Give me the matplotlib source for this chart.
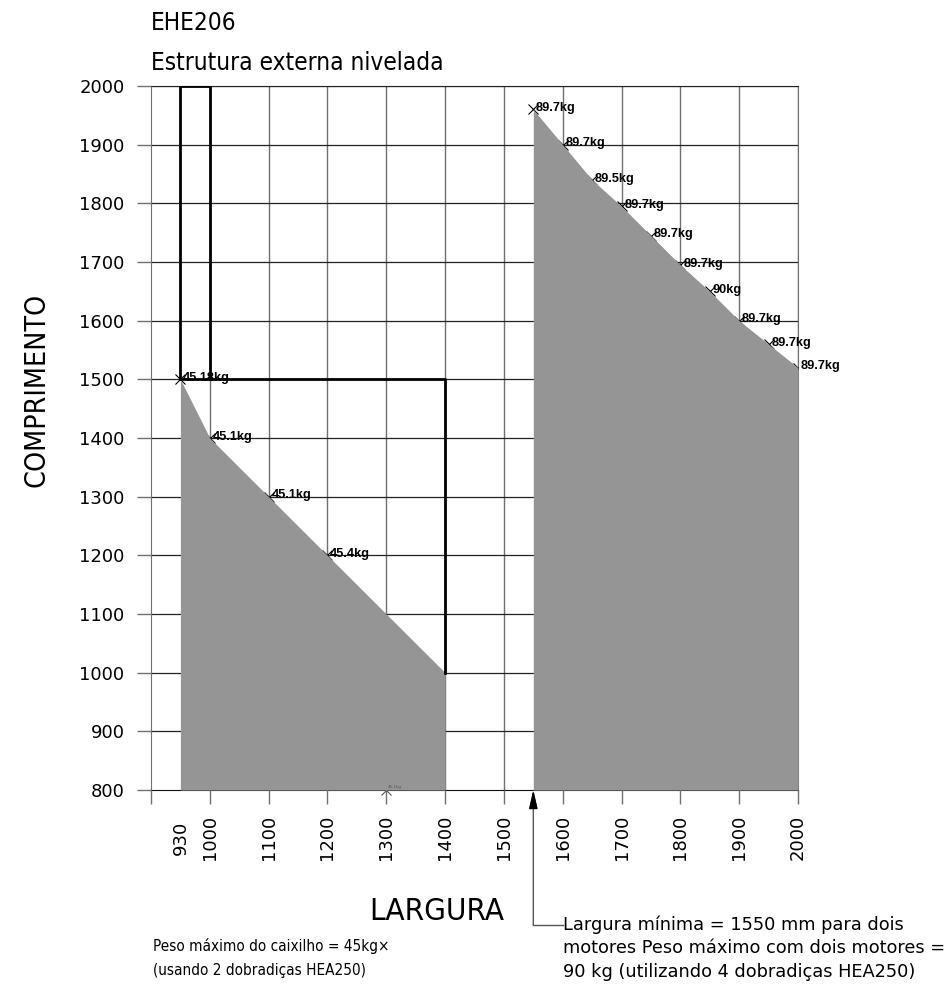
import matplotlib.pyplot as plt
from matplotlib.ticker import FixedLocator

# limite para um motor (dobradicas HEA250 x2)
um_motor_largura = [950, 1000, 1100, 1200, 1400]
um_motor_compr = [1500, 1400, 1300, 1200, 1000]
um_motor_peso = ['45.18kg', '45.1kg', '45.1kg', '45.4kg', None]

# limite para dois motores (dobradicas HEA250 x4)
dois_motores_largura = [1550, 1600, 1650, 1700, 1750, 1800, 1850, 1900, 1950, 2000]
dois_motores_compr = [1960, 1900, 1840, 1795, 1745, 1695, 1650, 1600, 1560, 1520]
dois_motores_peso = ['89.7kg', '89.7kg', '89.5kg', '89.7kg', '89.7kg',
                     '89.7kg', '90kg', '89.7kg', '89.7kg', '89.7kg']

x_ticks = [900, 1000, 1100, 1200, 1300, 1400, 1500, 1600, 1700, 1800, 1900, 2000]
x_labels = ['', '1000', '1100', '1200', '1300', '1400', '1500', '1600', '1700', '1800', '1900', '2000']
y_ticks = list(range(800, 2001, 100))

cad = dict(family='DejaVu Sans', stretch='condensed', weight='light')
cinza = '#959595'

fig = plt.figure(figsize=(9.49, 9.90), dpi=100)
ax = fig.add_axes([0.1591, 0.2020, 0.6818, 0.7111])
ax.set_xlim(900, 2000)
ax.set_ylim(800, 2000)

# grelha
for xv in x_ticks[1:]:
    ax.axvline(xv, color='#707070', lw=1.0, zorder=1)
for yv in y_ticks[1:]:
    ax.axhline(yv, color='#222222', lw=0.9, zorder=1)

for s in ['left', 'right']:
    ax.spines[s].set_color('#707070')
ax.spines['top'].set_color('#222222')
ax.spines['bottom'].set_color('#111111')
for s in ax.spines.values():
    s.set_zorder(1.5)

# marcadores por baixo do preenchimento
ax.plot(um_motor_largura[:4], um_motor_compr[:4], 'x', color='black', ms=7.5, mew=0.8, zorder=2)
ax.plot(dois_motores_largura, dois_motores_compr, 'x', color='black', ms=7.5, mew=0.8, zorder=2)
ax.plot([1300], [800], 'x', color='#555555', ms=7.5, mew=0.8, zorder=2, clip_on=False)
ax.text(1303, 803, '45.1kg', fontsize=3, color='#555555', zorder=4)

ax.fill_between(um_motor_largura, um_motor_compr, 800, color=cinza, lw=0, zorder=3)
ax.fill_between(dois_motores_largura, dois_motores_compr, 800, color=cinza, lw=0, zorder=3)

# contorno do caixilho
ax.plot([950, 950, 1000, 1000], [1500, 2000, 2000, 1500], color='black', lw=2, zorder=4)
ax.plot([950, 1400, 1400], [1500, 1500, 1000], color='black', lw=2, zorder=4)

for xv, yv, lab in zip(um_motor_largura, um_motor_compr, um_motor_peso):
    if lab:
        ax.annotate(lab, (xv, yv), xytext=(2, 1), textcoords='offset points',
                    fontsize=9.2, fontweight='bold', family='Liberation Sans',
                    va='center', ha='left', zorder=5)
for xv, yv, lab in zip(dois_motores_largura, dois_motores_compr, dois_motores_peso):
    ax.annotate(lab, (xv, yv), xytext=(2, 1), textcoords='offset points',
                fontsize=9.2, fontweight='bold', family='Liberation Sans',
                va='center', ha='left', zorder=5, annotation_clip=False)

ax.xaxis.set_major_locator(FixedLocator(x_ticks))
ax.set_xticklabels(x_labels, rotation=90)
ax.xaxis.set_minor_locator(FixedLocator([950]))
ax.xaxis.set_minor_formatter(lambda v, p: '930')
ax.set_yticks(y_ticks)
ax.tick_params(axis='both', which='major', length=10, width=1, color='#707070',
               labelsize=13, pad=8)
ax.tick_params(axis='x', which='minor', length=0, labelsize=13, pad=22, labelrotation=90)
ax.tick_params(axis='y', pad=9)

# seta da largura minima para dois motores
ax.annotate('', xy=(1550, 800), xytext=(1550, 570), textcoords='data',
            annotation_clip=False,
            arrowprops=dict(arrowstyle='-|>,head_length=1.1,head_width=0.25',
                            color='#555555', lw=1, shrinkA=0, shrinkB=0))
ax.plot([1550, 1600], [570, 570], color='#555555', lw=1, clip_on=False)
ax.annotate('', xy=(1550, 800), xytext=(1550, 772), textcoords='data', annotation_clip=False,
            arrowprops=dict(arrowstyle='-|>,head_length=1.1,head_width=0.25',
                            color='black', lw=1, shrinkA=0, shrinkB=0))

fig.text(0.159, 1 - 23 / 990, 'EHE206', fontsize=17.5, va='center', ha='left', **cad)
fig.text(0.159, 1 - 63 / 990, 'Estrutura externa nivelada', fontsize=17.5,
         va='center', ha='left', **cad)
fig.text(37 / 949, 1 - 390 / 990, 'COMPRIMENTO', fontsize=20.5, rotation=90,
         va='center', ha='center', **cad)
fig.text(437 / 949, 1 - 912 / 990, 'LARGURA', fontsize=22.5, va='center', ha='center', **cad)

fig.text(153 / 949, 1 - 946 / 990, 'Peso máximo do caixilho = 45kg×', fontsize=11,
         va='center', ha='left', **cad)
fig.text(153 / 949, 1 - 971 / 990, '(usando 2 dobradiças HEA250)', fontsize=11,
         va='center', ha='left', **cad)
notas_dir = ['Largura mínima = 1550 mm para dois',
             'motores Peso máximo com dois motores =',
             '90 kg (utilizando 4 dobradiças HEA250)']
for lin, ypx in zip(notas_dir, [925, 948, 972]):
    fig.text(563 / 949, 1 - ypx / 990, lin, fontsize=12.8, family='DejaVu Sans',
             va='center', ha='left')

fig.savefig('out.png', dpi=100, facecolor='white')
